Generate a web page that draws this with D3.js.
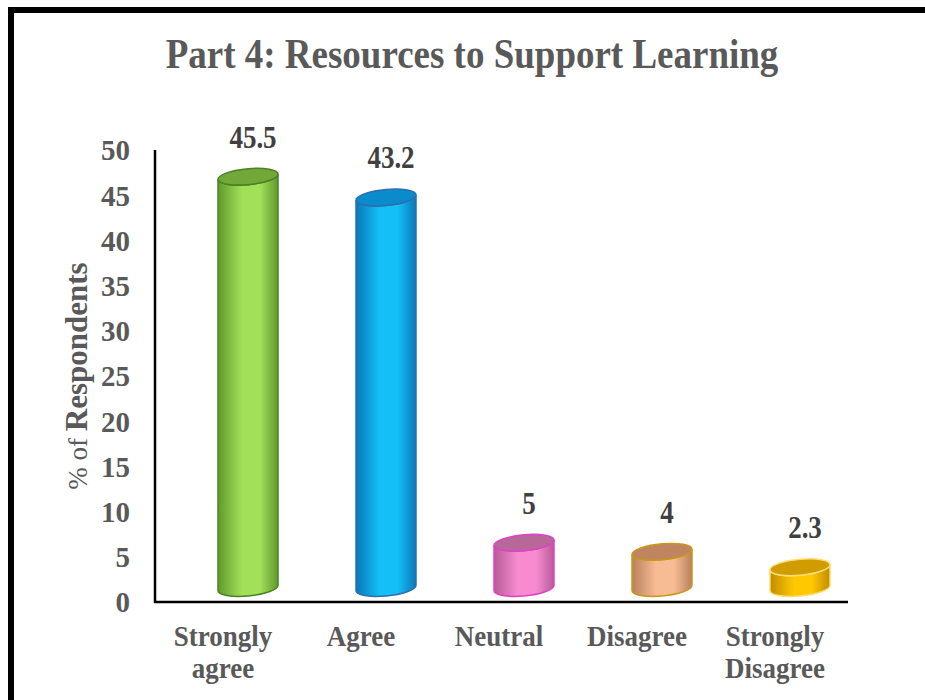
<!DOCTYPE html>
<html>
<head>
<meta charset="utf-8">
<script src="https://cdn.jsdelivr.net/npm/d3@7"></script>
<style>
  body { margin: 0; background: #fff; }
  svg { display: block; }
</style>
</head>
<body>
<div id="chart"></div>
<script>
// chart data
var categories = ["Strongly agree", "Agree", "Neutral", "Disagree", "Strongly Disagree"];
var labelLines = [["Strongly", "agree"], ["Agree"], ["Neutral"], ["Disagree"], ["Strongly", "Disagree"]];
var values = [45.5, 43.2, 5, 4, 2.3];
var valueLabels = ["45.5", "43.2", "5", "4", "2.3"];
var yTicks = [0, 5, 10, 15, 20, 25, 30, 35, 40, 45, 50];

// colours per cylinder: body edge, body light, top, outline
var palette = [
  { edge: "#5f9a2c", light: "#a3e05a", top: "#72a838", line: "#4f7f26" },
  { edge: "#0a78b8", light: "#14bff8", top: "#0a8ccc", line: "#2d6db0" },
  { edge: "#b85c98", light: "#f88ad0", top: "#b86898", line: "#e040c8" },
  { edge: "#b8805c", light: "#f8bc94", top: "#c08460", line: "#c89818" },
  { edge: "#c08c00", light: "#ffc800", top: "#d09c00", line: "#ffdc70" }
];

var width = 925, height = 700;
var grey = "#595959";
var serif = "'Liberation Serif', 'Times New Roman', serif";
var stretch = 1.15; // text in the original is a little taller than wide

var svg = d3.select("#chart")
  .append("svg")
  .attr("width", width)
  .attr("height", height);

// outer border (only top and left visible in frame)
svg.append("rect")
  .attr("x", 11)
  .attr("y", 10)
  .attr("width", 960)
  .attr("height", 760)
  .attr("fill", "none")
  .attr("stroke", "#000")
  .attr("stroke-width", 6);

// title
svg.append("text")
  .attr("transform", "translate(472,68) scale(1," + stretch + ")")
  .attr("text-anchor", "middle")
  .attr("font-family", serif)
  .attr("font-weight", "bold")
  .attr("font-size", 37)
  .attr("fill", grey)
  .text("Part 4: Resources to Support Learning");

var x = d3.scaleBand().domain(categories).range([154, 844]);
var y = d3.scaleLinear().domain([0, 50]).range([602, 150]);

// 3D depth shift of the cylinders relative to the axes
var depthX = 25, depthY = -14;
var rx = 30, ry = 8, skew = -5;

// y axis
var yAxis = svg.append("g")
  .attr("transform", "translate(155,0)")
  .call(d3.axisLeft(y).tickValues(yTicks).tickSize(0).tickPadding(25));
yAxis.select(".domain").remove();
yAxis.selectAll("text")
  .attr("font-family", serif)
  .attr("font-weight", "bold")
  .attr("font-size", 29)
  .attr("fill", grey)
  .attr("dy", "0.34em");

// x axis, labels on one or two lines
var xAxis = svg.append("g")
  .attr("transform", "translate(0,602)")
  .call(d3.axisBottom(x).tickSize(0).tickFormat(""));
xAxis.select(".domain").remove();
xAxis.selectAll(".tick").each(function (d, i) {
  var t = d3.select(this).append("text")
    .attr("transform", "translate(0,44) scale(1,1.08)")
    .attr("font-family", serif)
    .attr("font-weight", "bold")
    .attr("font-size", 27)
    .attr("fill", grey)
    .attr("text-anchor", "middle");
  labelLines[i].forEach(function (line, j) {
    t.append("tspan").attr("x", 0).attr("y", j * 32 / 1.08).text(line);
  });
});

// axis lines
svg.append("line")
  .attr("x1", 155).attr("x2", 155)
  .attr("y1", y(50)).attr("y2", y(0) + 1)
  .attr("stroke", "#000").attr("stroke-width", 2.5);
svg.append("line")
  .attr("x1", 154).attr("x2", 848)
  .attr("y1", y(0)).attr("y2", y(0))
  .attr("stroke", "#000").attr("stroke-width", 2.5);

// y axis title
svg.append("text")
  .attr("transform", "translate(87,376) rotate(-90)")
  .attr("text-anchor", "middle")
  .attr("font-family", serif)
  .attr("fill", grey)
  .call(function (t) {
    t.append("tspan").attr("font-size", 27).text("% of ");
    t.append("tspan").attr("font-size", 31).attr("font-weight", "bold").text("Respondents");
  });

// gradients
var defs = svg.append("defs");
palette.forEach(function (p, i) {
  var g = defs.append("linearGradient")
    .attr("id", "body" + i)
    .attr("x1", "0%").attr("x2", "100%")
    .attr("y1", "0%").attr("y2", "0%");
  g.append("stop").attr("offset", "0%").attr("stop-color", p.edge);
  g.append("stop").attr("offset", "40%").attr("stop-color", p.light);
  g.append("stop").attr("offset", "70%").attr("stop-color", p.light);
  g.append("stop").attr("offset", "100%").attr("stop-color", p.edge);
});

// cylinders
var data = categories.map(function (c, i) {
  return { cat: c, value: values[i], label: valueLabels[i], i: i };
});

var cyl = svg.append("g")
  .selectAll("g")
  .data(data)
  .join("g")
  .attr("transform", function (d) {
    return "translate(" + (x(d.cat) + x.bandwidth() / 2 + depthX) + ",0) skewY(" + skew + ")";
  });

cyl.append("path")
  .attr("d", function (d) {
    var top = y(d.value) + depthY, base = y(0) + depthY;
    return "M" + -rx + "," + top +
      "L" + -rx + "," + base +
      "A" + rx + "," + ry + " 0 0 0 " + rx + "," + base +
      "L" + rx + "," + top +
      "A" + rx + "," + ry + " 0 0 1 " + -rx + "," + top + "Z";
  })
  .attr("fill", function (d) { return "url(#body" + d.i + ")"; })
  .attr("stroke", function (d) { return palette[d.i].line; })
  .attr("stroke-width", 1.5);

cyl.append("ellipse")
  .attr("cx", 0)
  .attr("cy", function (d) { return y(d.value) + depthY; })
  .attr("rx", rx)
  .attr("ry", ry)
  .attr("fill", function (d) { return palette[d.i].top; })
  .attr("stroke", function (d) { return palette[d.i].line; })
  .attr("stroke-width", 1.5);

// value labels
svg.append("g")
  .selectAll("text")
  .data(data)
  .join("text")
  .attr("transform", function (d) {
    var lx = x(d.cat) + x.bandwidth() / 2 + depthX + 5;
    var ly = y(d.value) + depthY - 29;
    return "translate(" + lx + "," + ly + ") scale(1," + stretch + ")";
  })
  .attr("text-anchor", "middle")
  .attr("font-family", serif)
  .attr("font-weight", "bold")
  .attr("font-size", 27)
  .attr("fill", "#404040")
  .text(function (d) { return d.label; });
</script>
</body>
</html>
